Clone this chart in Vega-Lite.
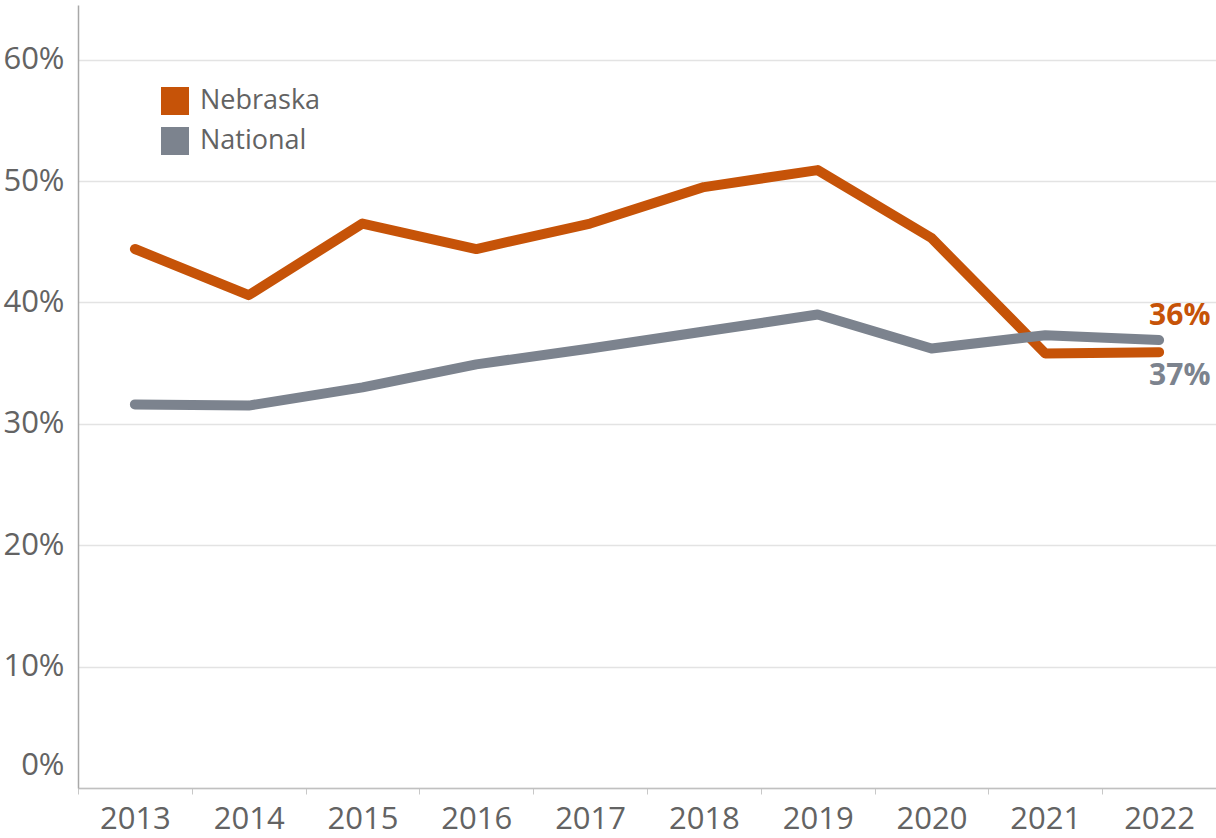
{
  "$schema": "https://vega.github.io/schema/vega-lite/v6.json",
  "width": 1138,
  "height": 783,
  "autosize": {"type": "none"},
  "padding": {"left": 78, "top": 5, "right": 0, "bottom": 50},
  "background": "white",
  "config": {
    "view": {"stroke": null},
    "font": "Open Sans"
  },
  "datasets": {
    "series": [
      {"year": "2013", "series": "Nebraska", "value": 0.444},
      {"year": "2014", "series": "Nebraska", "value": 0.406},
      {"year": "2015", "series": "Nebraska", "value": 0.465},
      {"year": "2016", "series": "Nebraska", "value": 0.444},
      {"year": "2017", "series": "Nebraska", "value": 0.465},
      {"year": "2018", "series": "Nebraska", "value": 0.495},
      {"year": "2019", "series": "Nebraska", "value": 0.509},
      {"year": "2020", "series": "Nebraska", "value": 0.453},
      {"year": "2021", "series": "Nebraska", "value": 0.358},
      {"year": "2022", "series": "Nebraska", "value": 0.359},
      {"year": "2013", "series": "National", "value": 0.316},
      {"year": "2014", "series": "National", "value": 0.315},
      {"year": "2015", "series": "National", "value": 0.330},
      {"year": "2016", "series": "National", "value": 0.349},
      {"year": "2017", "series": "National", "value": 0.362},
      {"year": "2018", "series": "National", "value": 0.376},
      {"year": "2019", "series": "National", "value": 0.390},
      {"year": "2020", "series": "National", "value": 0.362},
      {"year": "2021", "series": "National", "value": 0.373},
      {"year": "2022", "series": "National", "value": 0.369}
    ],
    "labels": [
      {"year": "2022", "series": "Nebraska", "value": 0.359, "label": "36%"},
      {"year": "2022", "series": "National", "value": 0.369, "label": "37%"}
    ]
  },
  "encoding": {
    "x": {
      "field": "year",
      "type": "ordinal",
      "scale": {"type": "band", "paddingInner": 0, "paddingOuter": 0},
      "axis": {
        "title": null,
        "labelAngle": 0,
        "labelFontSize": 31,
        "labelColor": "#636363",
        "labelPadding": 10,
        "tickBand": "extent",
        "ticks": true,
        "tickSize": 6,
        "tickColor": "#c8c8c8",
        "domainColor": "#c0c0c0",
        "domainWidth": 1.5,
        "grid": false
      }
    },
    "y": {
      "field": "value",
      "type": "quantitative",
      "scale": {"domain": [0, 0.645], "nice": false, "zero": true},
      "axis": {
        "title": null,
        "values": [0, 0.1, 0.2, 0.3, 0.4, 0.5, 0.6],
        "format": ".0%",
        "labelFontSize": 31,
        "labelColor": "#636363",
        "labelPadding": 14,
        "labelOffset": {"condition": {"test": "datum.value === 0", "value": -23}, "value": 0},
        "ticks": false,
        "domainColor": "#a8a8a8",
        "domainWidth": 1.5,
        "grid": true,
        "gridColor": "#e3e3e3",
        "gridWidth": 1.5
      }
    }
  },
  "layer": [
    {
      "data": {"name": "series"},
      "mark": {"type": "line", "strokeWidth": 10, "strokeCap": "round", "strokeJoin": "round"},
      "encoding": {
        "color": {
          "field": "series",
          "type": "nominal",
          "scale": {"domain": ["Nebraska", "National"], "range": ["#C65308", "#7C838E"]},
          "legend": {
            "title": null,
            "orient": "none",
            "legendX": 83,
            "legendY": 82,
            "symbolType": "square",
            "symbolSize": 784,
            "symbolStrokeWidth": 0,
            "symbolOpacity": 1,
            "labelFontSize": 27,
            "labelColor": "#636363",
            "labelOffset": 11,
            "rowPadding": 12,
            "padding": 0,
            "encode": {
              "symbols": {"update": {"fill": {"scale": "color", "field": "value"}, "fillOpacity": {"value": 1}}}
            }
          }
        }
      }
    },
    {
      "data": {"name": "labels"},
      "transform": [{"filter": "datum.series === 'Nebraska'"}],
      "mark": {"type": "text", "align": "left", "baseline": "middle", "dx": -10, "dy": -36, "fontSize": 30, "fontWeight": "bold", "fill": "#C65308"},
      "encoding": {"text": {"field": "label"}}
    },
    {
      "data": {"name": "labels"},
      "transform": [{"filter": "datum.series === 'National'"}],
      "mark": {"type": "text", "align": "left", "baseline": "middle", "dx": -10, "dy": 36, "fontSize": 30, "fontWeight": "bold", "fill": "#7C838E"},
      "encoding": {"text": {"field": "label"}}
    }
  ]
}
